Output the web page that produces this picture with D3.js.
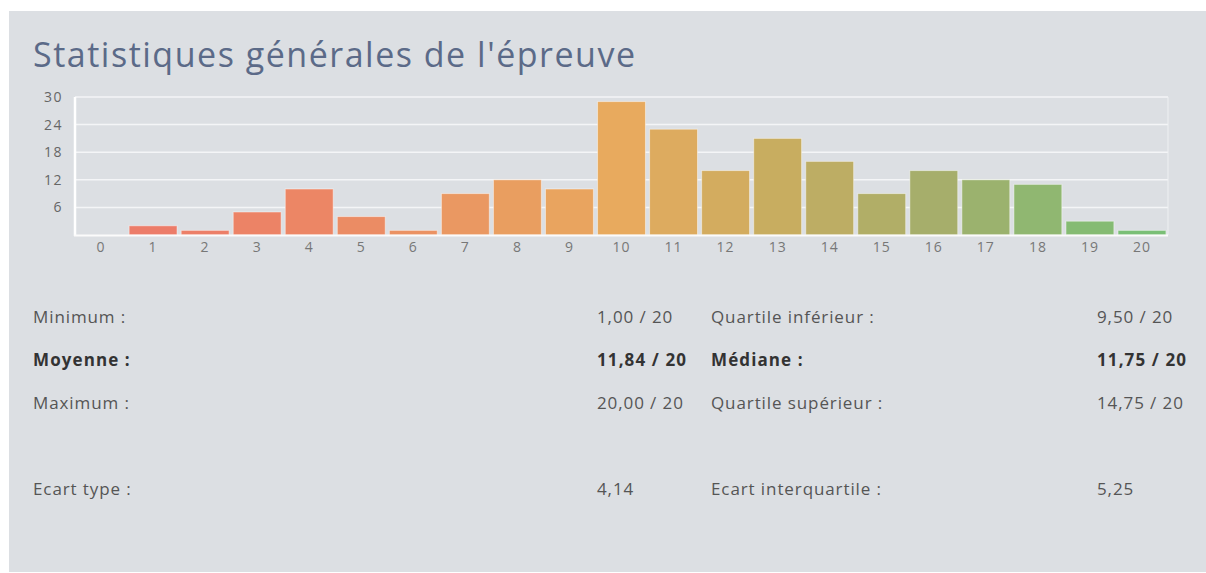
<!DOCTYPE html>
<html>
<head>
<meta charset="utf-8">
<script src="https://cdn.jsdelivr.net/npm/d3@7"></script>
<style>
  html, body { margin: 0; padding: 0; background: #fff; }
  svg { display: block; font-family: "Open Sans", sans-serif; }
</style>
</head>
<body>
<div id="chart"></div>
<script>
const title = "Statistiques générales de l'épreuve"
const grades = d3.range(0, 21)
const counts = [0, 2, 1, 5, 10, 4, 1, 9, 12, 10, 29, 23, 14, 21, 16, 9, 14, 12, 11, 3, 1]
const yTicks = [6, 12, 18, 24, 30]

const leftLabels = ["Minimum :", "Moyenne :", "Maximum :", "Ecart type :"]
const leftValues = ["1,00 / 20", "11,84 / 20", "20,00 / 20", "4,14"]
const rightLabels = ["Quartile inférieur :", "Médiane :", "Quartile supérieur :", "Ecart interquartile :"]
const rightValues = ["9,50 / 20", "11,75 / 20", "14,75 / 20", "5,25"]
const boldRow = 1

const width = 1206
const height = 573

const svg = d3.select("#chart")
  .append("svg")
  .attr("width", width)
  .attr("height", height)

// panel background
svg.append("rect")
  .attr("x", 9).attr("y", 11)
  .attr("width", width - 9).attr("height", height - 12)
  .attr("fill", "#dcdfe3")

svg.append("text")
  .attr("x", 33).attr("y", 67)
  .attr("font-size", 34)
  .attr("fill", "#5b6a88")
  .attr("textLength", 602)
  .attr("lengthAdjust", "spacing")
  .text(title)

const x = d3.scaleBand()
  .domain(grades)
  .range([75, 1168])
  .paddingInner(0.08)
  .paddingOuter(0.04)

const y = d3.scaleLinear()
  .domain([0, 30])
  .range([235, 97])

const color = d3.scaleLinear()
  .domain([0, 4, 10, 13, 16, 20])
  .range(["#ec786a", "#ec8665", "#e8aa5e", "#c8ad60", "#a6ae6b", "#7abf76"])

// grid
svg.append("g")
  .selectAll("line")
  .data(yTicks)
  .join("line")
  .attr("x1", 75).attr("x2", 1168)
  .attr("y1", d => y(d)).attr("y2", d => y(d))
  .attr("stroke", "#f4f5f7")
  .attr("stroke-width", 1.5)

svg.append("line")
  .attr("x1", 1168).attr("x2", 1168)
  .attr("y1", y(30)).attr("y2", y(0))
  .attr("stroke", "#eef0f2")

// bars
svg.append("g")
  .selectAll("rect")
  .data(counts)
  .join("rect")
  .attr("x", (d, i) => x(grades[i]))
  .attr("y", d => y(d))
  .attr("width", x.bandwidth())
  .attr("height", d => y(0) - y(d))
  .attr("fill", (d, i) => color(grades[i]))
  .attr("stroke", "rgba(255,255,255,0.45)")
  .attr("stroke-width", 1)

// axes lines
svg.append("line")
  .attr("x1", 75).attr("x2", 75)
  .attr("y1", y(30)).attr("y2", y(0) + 1)
  .attr("stroke", "#fff").attr("stroke-width", 2.5)
svg.append("line")
  .attr("x1", 74).attr("x2", 1168)
  .attr("y1", y(0) + 0.5).attr("y2", y(0) + 0.5)
  .attr("stroke", "#fbfbfb").attr("stroke-width", 2)

const yAxis = svg.append("g")
  .attr("transform", "translate(63,0)")
  .call(d3.axisLeft(y).tickValues(yTicks).tickSize(0).tickPadding(0))
yAxis.select(".domain").remove()
yAxis.selectAll("text")
  .attr("font-family", "Open Sans, sans-serif")
  .attr("font-size", 14)
  .attr("letter-spacing", "1.5px")
  .attr("fill", "#666")

const xAxis = svg.append("g")
  .attr("transform", "translate(0," + y(0) + ")")
  .call(d3.axisBottom(x).tickSize(0).tickPadding(7))
xAxis.select(".domain").remove()
xAxis.selectAll("text")
  .attr("font-family", "Open Sans, sans-serif")
  .attr("font-size", 14)
  .attr("letter-spacing", "1px")
  .attr("fill", "#777")

// stats table
const rowY = [323, 366, 409, 495]
const table = svg.append("g")
  .attr("font-size", 17)
  .attr("letter-spacing", "0.9px")

const cols = [
  { x: 33, texts: leftLabels },
  { x: 597, texts: leftValues },
  { x: 711, texts: rightLabels },
  { x: 1097, texts: rightValues }
]
cols.forEach(c => {
  table.append("g")
    .selectAll("text")
    .data(c.texts)
    .join("text")
    .attr("x", c.x)
    .attr("y", (d, i) => rowY[i])
    .attr("font-weight", (d, i) => i === boldRow ? "bold" : null)
    .attr("letter-spacing", (d, i) => i === boldRow ? "1.1px" : null)
    .attr("fill", (d, i) => i === boldRow ? "#333" : "#555")
    .text(d => d)
})
</script>
</body>
</html>
